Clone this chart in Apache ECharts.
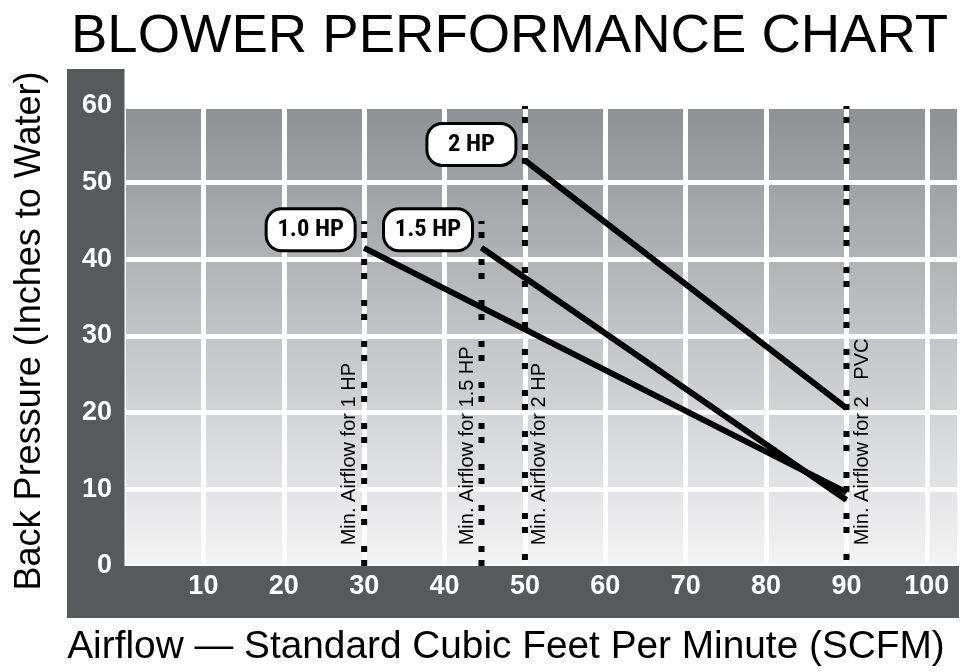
<!DOCTYPE html>
<html>
<head>
<meta charset="utf-8">
<script src="https://cdn.jsdelivr.net/npm/echarts@6/dist/echarts.min.js"></script>
<style>
  html, body { margin: 0; padding: 0; background: #fff; }
  #chart { width: 964px; height: 672px; }
</style>
</head>
<body>
<div id="chart"></div>
<script>
// Blower curves: [airflow SCFM, back pressure in. H2O]
const curveNames = ['1.0 HP', '1.5 HP', '2 HP'];
const curve10 = [[30, 41.5], [90, 9.6]];
const curve15 = [[44.6, 41.5], [90, 8.6]];
const curve20 = [[50, 52.9], [90, 20.6]];

// Minimum airflow markers
const minFlowX = [30, 44.6, 50, 90];
const minFlowTop = [45, 45, 60, 60];
const minFlowText = ['Min. Airflow for 1 HP', 'Min. Airflow for 1.5 HP', 'Min. Airflow for 2 HP', 'Min. Airflow for 2   PVC'];

// Axes
const xRange = [0, 104];
const yRange = [0, 60];
const tickStep = 10;

const FONT = '"Liberation Sans", Arial, Helvetica, sans-serif';
const NARROW = '"Roboto Condensed", "Liberation Sans Narrow", "Arial Narrow", "DejaVu Sans Condensed", sans-serif';
const FRAME = '#58595b';

const chart = echarts.init(document.getElementById('chart'), null, { renderer: 'canvas' });

function hpLabel(name, dy) {
  return {
    show: true,
    position: 'left',
    distance: 10,
    offset: [0, dy],
    formatter: '{t|' + name + '}',
    backgroundColor: '#fff',
    borderColor: '#000',
    borderWidth: 3,
    borderRadius: 14,
    padding: [5, 11, 5, 11],
    rich: {
      t: { width: 64, align: 'center', fontSize: 24.5, fontWeight: 'bold', fontFamily: NARROW, color: '#000', lineHeight: 29 }
    }
  };
}

function curveSeries(data, name, dy) {
  return {
    type: 'line',
    name: name,
    xAxisIndex: 0, yAxisIndex: 0,
    data: data.map((p, i) => i === 0 ? { value: p, label: hpLabel(name, dy) } : { value: p }),
    symbol: 'circle', symbolSize: 1, showSymbol: true,
    itemStyle: { color: '#000' },
    lineStyle: { color: '#000', width: 6, cap: 'butt' },
    label: { show: false },
    silent: true, animation: false, z: 4
  };
}

const dashPhase = [0, 0, 8, 8];
const minFlowSeries = minFlowX.map((x, i) => ({
  type: 'line',
  xAxisIndex: 0, yAxisIndex: 0,
  data: [[x, yRange[0]], [x, minFlowTop[i]]],
  symbol: 'none',
  lineStyle: { color: '#000', width: 6, type: [6, 8, 6, 21], dashOffset: dashPhase[i], cap: 'butt' },
  silent: true, animation: false, z: 3
}));

const gridBox = { left: 123, right: 5, top: 106, bottom: 103 };

const frameGraphics = [
  { id: 'frameLeft', type: 'rect', shape: { x: 67, y: 69, width: 57.5, height: 549 }, style: { fill: FRAME }, z: 5, silent: true },
  { id: 'frameBottom', type: 'rect', shape: { x: 67, y: 566, width: 892, height: 52 }, style: { fill: FRAME }, z: 5, silent: true }
];

const option = {
  animation: false,
  backgroundColor: '#fff',
  title: {
    text: 'BLOWER PERFORMANCE CHART',
    left: 66, top: 4,
    textStyle: { fontFamily: FONT, fontSize: 54.5, fontWeight: 'normal', color: '#000' }
  },
  grid: Object.assign({
    show: true,
    borderWidth: 0,
    backgroundColor: {
      type: 'linear', x: 0, y: 0, x2: 0, y2: 1,
      colorStops: [
        { offset: 0, color: '#8f9093' },
        { offset: 0.5, color: '#c3c4c6' },
        { offset: 1, color: '#f4f4f5' }
      ]
    }
  }, gridBox),
  xAxis: [
    {
      type: 'value', min: xRange[0], max: xRange[1], interval: tickStep, position: 'bottom',
      axisLine: { show: false }, axisTick: { show: false }, axisLabel: { show: false },
      splitLine: { show: true, lineStyle: { color: '#fff', width: 5 } }
    },
    {
      type: 'value', min: xRange[0], max: xRange[1], interval: tickStep, position: 'bottom', z: 10,
      axisLine: { show: false }, axisTick: { show: false }, splitLine: { show: false },
      axisLabel: {
        color: '#fff', fontSize: 27, fontWeight: 'bold', fontFamily: FONT, margin: 7,
        formatter: v => (v > 0 && v <= 100 && v % tickStep === 0) ? String(v) : ''
      },
      name: 'Airflow \u2014 Standard Cubic Feet Per Minute (SCFM)',
      nameLocation: 'middle', nameGap: 62,
      nameTextStyle: { fontFamily: FONT, fontSize: 38.8, color: '#000', padding: [0, 70, 0, 0] }
    }
  ],
  yAxis: [
    {
      type: 'value', min: yRange[0], max: yRange[1], interval: tickStep, position: 'left',
      axisLine: { show: false }, axisTick: { show: false }, axisLabel: { show: false },
      splitLine: { show: true, lineStyle: { color: '#fff', width: 5 } }
    },
    {
      type: 'value', min: yRange[0], max: yRange[1], interval: tickStep, position: 'left', z: 10,
      axisLine: { show: false }, axisTick: { show: false }, splitLine: { show: false },
      axisLabel: {
        color: '#fff', fontSize: 27, fontWeight: 'bold', fontFamily: FONT, margin: 11,
        formatter: v => (v % tickStep === 0) ? String(v) : ''
      },
      name: 'Back Pressure (Inches to Water)',
      nameLocation: 'middle', nameGap: 75,
      nameTextStyle: { fontFamily: FONT, fontSize: 36, color: '#000', padding: [0, 0, 0, 10] }
    }
  ],
  series: [
    ...minFlowSeries,
    curveSeries(curve10, curveNames[0], -18),
    curveSeries(curve15, curveNames[1], -18),
    curveSeries(curve20, curveNames[2], -16)
  ],
  graphic: frameGraphics
};

chart.setOption(option);

// Rotated captions beside each minimum-airflow marker
const noteShift = [-15, -14, 15, 16];
const noteBase = 2.7;
const notes = minFlowX.map((x, i) => {
  const p = chart.convertToPixel({ xAxisIndex: 0, yAxisIndex: 0 }, [x, noteBase]);
  return {
    id: 'note' + i,
    type: 'text',
    x: p[0] + noteShift[i],
    y: p[1],
    rotation: Math.PI / 2,
    z: 6,
    silent: true,
    style: {
      text: minFlowText[i],
      fontFamily: FONT,
      fontSize: 20,
      fill: '#000',
      textAlign: 'left',
      textVerticalAlign: 'middle'
    }
  };
});
chart.setOption({ graphic: frameGraphics.concat(notes) });
</script>
</body>
</html>
